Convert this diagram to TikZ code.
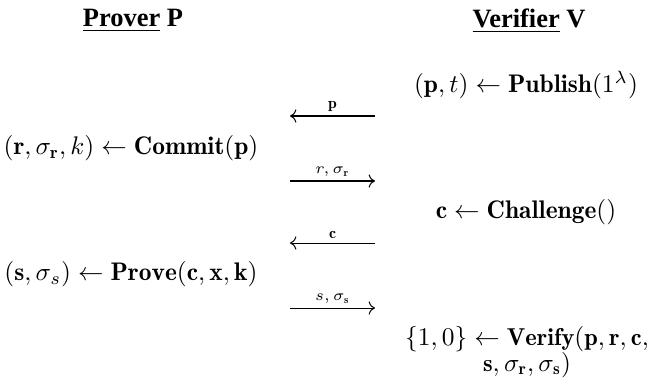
\documentclass[tikz,border=0pt]{standalone}
\usepackage{amsmath,amssymb,bm}
\usepackage{fontspec}
\newfontfamily\headfont{Liberation Serif}
\usepackage{tikz}
\usetikzlibrary{arrows.meta,calc}

\begin{document}
\begin{tikzpicture}[x=0.393pt,y=-0.393pt,>=To,
    head/.style={font=\headfont\bfseries\fontsize{10.4}{12}\selectfont},
    step label/.style={font=\fontsize{6.2}{7}\selectfont,above,inner sep=1.5pt},
    msg/.style={->,thin}]
  \useasboundingbox (0,0) rectangle (647,377);
  % 見出し
  \node[head] (prover)   at (133,21) {\underline{Prover} P};
  \node[head] (verifier) at (529,21) {\underline{Verifier} V};
  % 計算
  \node (publish)   at (526,85)  {$(\mathbf p,t)\leftarrow\mathbf{Publish}(1^\lambda)$};
  \node (commit)    at (131,148) {$(\mathbf r,\sigma_{\mathbf r},k)\leftarrow\mathbf{Commit}(\mathbf p)$};
  \node (challenge) at (526,212) {$\mathbf c\leftarrow\mathbf{Challenge}()$};
  \node (prove)     at (131,274) {$(\mathbf s,\sigma_s)\leftarrow\mathbf{Prove}(\mathbf c,\mathbf x,\mathbf k)$};
  \node[align=center,font=\fontsize{9.6}{11}\selectfont] (verify) at (527,352)
    {$\{1,0\}\leftarrow\mathbf{Verify}(\mathbf p,\mathbf r,\mathbf c,$\\[-1pt]
     $\mathbf s,\sigma_{\mathbf r},\sigma_{\mathbf s})$};
  % メッセージ
  \coordinate (L1) at (290,116); \coordinate (R1) at (375,116);
  \coordinate (L2) at (290,181); \coordinate (R2) at (375,181);
  \coordinate (L3) at (290,243); \coordinate (R3) at (375,243);
  \coordinate (L4) at (290,308); \coordinate (R4) at (375,308);
  \draw[msg] (R1)--(L1) node[step label,midway]{$\mathbf p$};
  \draw[msg] (L2)--(R2) node[step label,midway]{$r,\sigma_{\mathbf r}$};
  \draw[msg] (R3)--(L3) node[step label,midway]{$\mathbf c$};
  \draw[msg] (L4)--(R4) node[step label,midway]{$s,\sigma_{\mathbf s}$};
\end{tikzpicture}
\end{document}
